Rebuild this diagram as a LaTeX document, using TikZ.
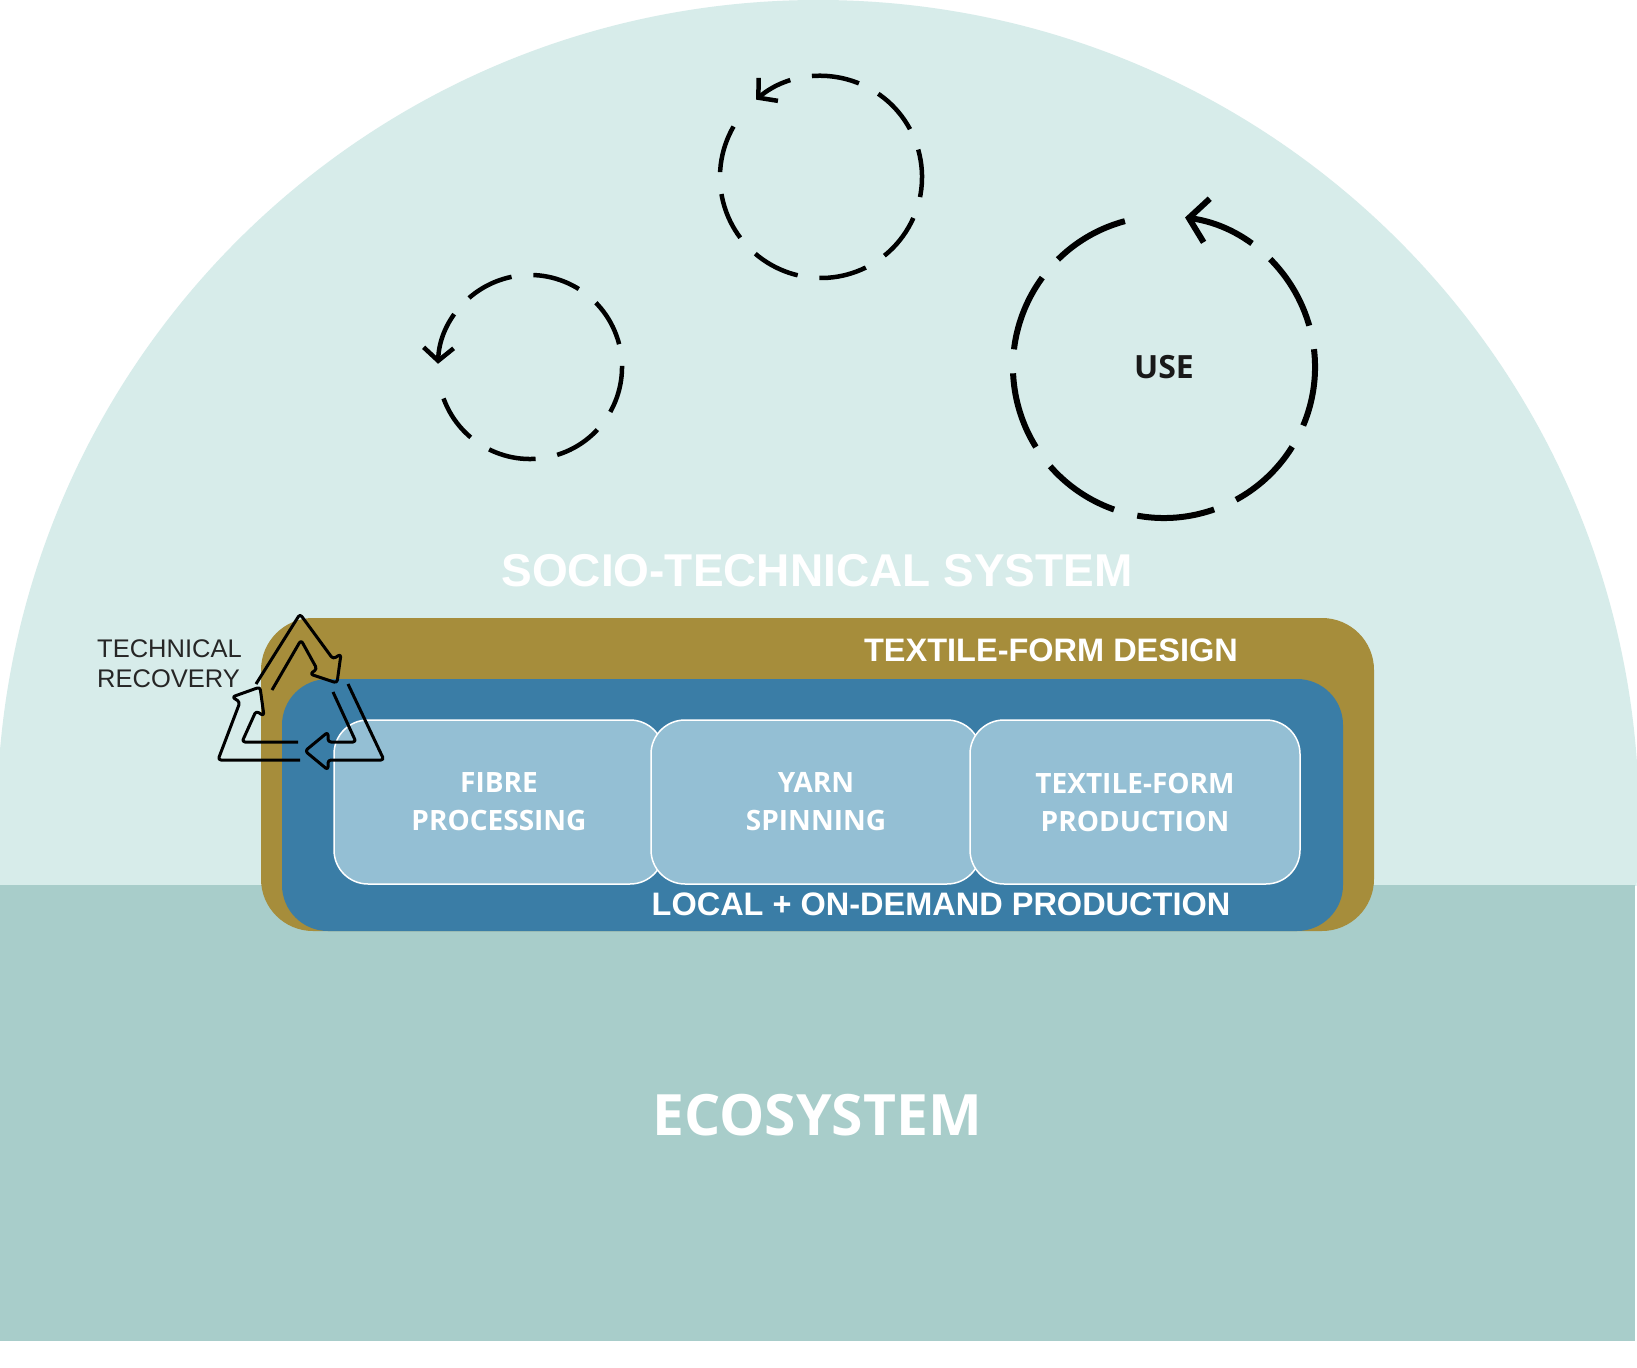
\documentclass[tikz,border=0pt]{standalone}
\usepackage{fontspec}
\setmainfont{Liberation Sans}
\newfontfamily\opensans{Open Sans}
\usetikzlibrary{arrows.meta}
\definecolor{dome}{HTML}{D7ECEA}
\definecolor{eco}{HTML}{A8CDCA}
\definecolor{gold}{HTML}{A68D3B}
\definecolor{bluebox}{HTML}{3A7DA6}
\definecolor{inner}{HTML}{94BFD4}
\begin{document}
\begin{tikzpicture}[x=1pt,y=1pt,
  dcirc/.style={line width=4.5pt,dash pattern=on 48pt off 22pt,-{Straight Barb[length=13pt,width=30pt]}},
  stage/.style={draw=white,line width=1.5pt,fill=inner,rounded corners=34pt,minimum width=330pt,minimum height=164pt,text=white,font=\opensans\bfseries\fontsize{28}{38}\selectfont,align=center},
  wlab/.style={text=white,font=\bfseries\fontsize{32.5}{36}\selectfont},
  rec/.style={line width=3pt,rounded corners=3pt,line join=round}]
\useasboundingbox (0,0) rectangle (1637,-1367);
\fill[white] (0,0) rectangle (1637,-1367);
\begin{scope}
\clip (0,0) rectangle (1637,-885);
\fill[dome] (818,-821) circle[radius=821];
\end{scope}
\fill[eco] (0,-885) rectangle (1635,-1341);
% boxes
\fill[gold,rounded corners=52pt] (261,-618) rectangle (1374,-931);
\fill[bluebox,rounded corners=46pt] (282,-679) rectangle (1343,-931);
\node[stage] (fibre) at (499,-802) {FIBRE\\PROCESSING};
\node[stage] (yarn) at (816,-802) {YARN\\SPINNING};
\node[stage] (tfp) at (1135,-802) {TEXTILE-FORM\\PRODUCTION};
\node[wlab] (tfd) at (1051,-650) {TEXTILE-FORM DESIGN};
\node[wlab] (local) at (941,-904) {LOCAL + ON-DEMAND PRODUCTION};
\node[text=white,font=\bfseries\fontsize{46}{56}\selectfont] (sts) at (817,-571) {SOCIO-TECHNICAL SYSTEM};
\node[text=white,font=\opensans\bfseries\fontsize{57}{64}\selectfont] (eco) at (817,-1115) {ECOSYSTEM};
\node[text=black!85,font=\fontsize{25.5}{30}\selectfont,align=left,anchor=west,inner sep=0pt] (trec) at (97,-664) {TECHNICAL\\RECOVERY};
% cycles
\draw[dcirc] (530,-367) ++(200:92) arc[start angle=200,end angle=538,radius=92];
\draw[dcirc] (821,-177) ++(150:101) arc[start angle=150,end angle=490,radius=101];
\draw[dcirc,line width=6pt,dash pattern=on 78pt off 24pt,-{Straight Barb[length=18pt,width=44pt]}] (1164,-367) ++(105:151) arc[start angle=105,end angle=442,radius=151];
\node[text=black!90,font=\opensans\bfseries\fontsize{32}{36}\selectfont] (use) at (1164,-367) {USE};
% recycling symbol
\draw[rec] (256,-684) -- (300,-614) -- (333,-659) -- (341,-654) -- (337,-683) -- (310,-674) -- (317,-669) -- (301,-640) -- (272,-690);
\draw[rec] (348,-684) -- (384,-760) -- (328,-760) -- (328,-770) -- (305,-751) -- (328,-732) -- (328,-742) -- (356,-742) -- (333,-692);
\draw[rec] (300,-760) -- (218,-760) -- (240,-702) -- (232,-697) -- (260,-687) -- (264,-716) -- (256,-711) -- (242,-742) -- (298,-742);
\end{tikzpicture}
\end{document}
